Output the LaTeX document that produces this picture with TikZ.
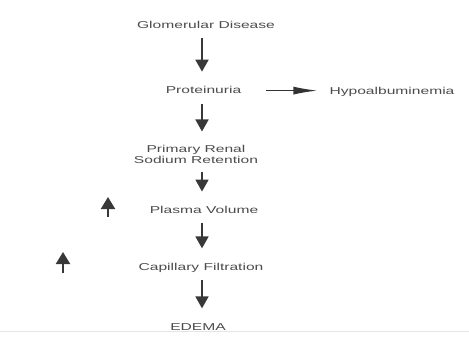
\documentclass[tikz,border=0pt]{standalone}
\usepackage{fontspec}
\setsansfont[FakeStretch=1.56]{Liberation Sans}
\usetikzlibrary{arrows.meta, positioning}
\tikzset{>={Triangle[length=12pt,width=13pt]}}

\begin{document}
\begin{tikzpicture}[x=1pt,y=-1pt,
    every node/.style={font=\sffamily\fontsize{10}{9}\selectfont,text=black!70,align=center,inner sep=2pt,text height=7.5pt,text depth=2pt},
    flow/.style={color=black!78,line width=1.8pt,shorten <=6pt,shorten >=12pt},
    updown/.style={color=black!78,line width=2pt}]
    \useasboundingbox[fill=white] (0,0) rectangle (469,354);
    \coordinate (spine) at (202,0);
    \node (glom) at (206,25.3) {Glomerular Disease};
    \node (prot) at (203.5,90.6) {Proteinuria};
    \node (hypo) at (392,92.2) {Hypoalbuminemia};
    \node[text height=,text depth=] (renal) at (196,154.5) {Primary Renal\\Sodium Retention};
    \node (plasma) at (204,210.5) {Plasma Volume};
    \node (capil) at (201,267.3) {Capillary Filtration};
    \node (edema) at (198,327.3) {EDEMA};
    % arrows in front of the two rising quantities
    \coordinate (pvlow) at (108,217);
    \coordinate (pvtop) at (108,197);
    \coordinate (cflow) at (63,273);
    \coordinate (cftop) at (63,252);
    \path[->,flow]
        (glom.south -| spine)   edge  (prot.north -| spine)
        (prot.south -| spine)   edge  (renal.north -| spine)
        (renal.south -| spine)  edge  (plasma.north -| spine)
        (plasma.south -| spine) edge  (capil.north -| spine)
        (capil.south -| spine)  edge  (edema.north -| spine)
    ;
    \path[-{Latex[length=24pt,width=8pt]},color=black!80,line width=1.3pt,shorten <=23pt,shorten >=10pt]
        (prot.east) edge (prot.east -| hypo.west);
    \path[-{Triangle[length=12pt,width=14pt]},updown]
        (pvlow) edge (pvtop)
        (cflow) edge (cftop);
    \draw[black!10] (0,331) -- (469,331);
\end{tikzpicture}
\end{document}
